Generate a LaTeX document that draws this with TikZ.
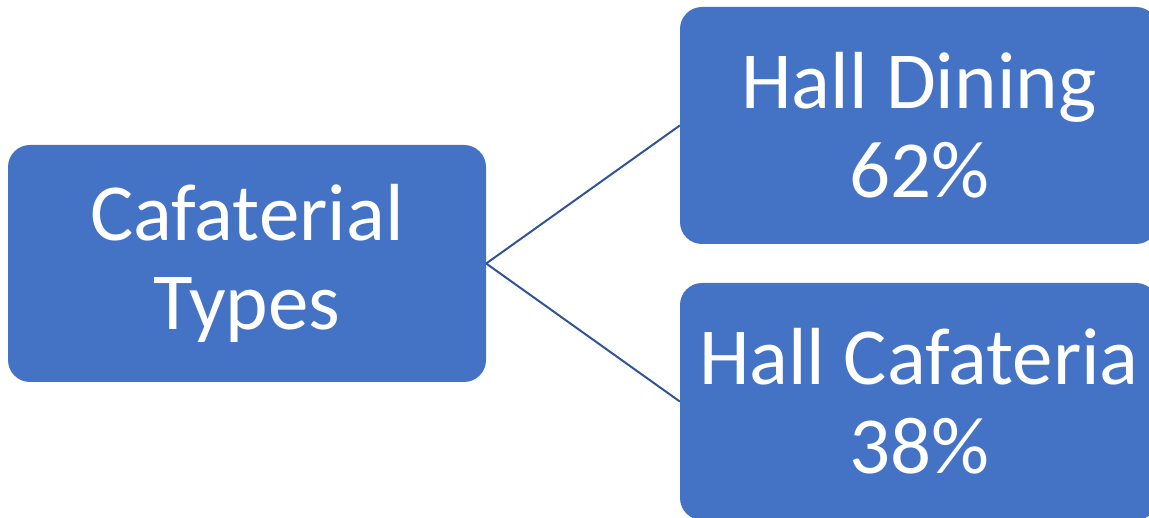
\documentclass[tikz,border=0pt]{standalone}
\usepackage{fontspec}
\setmainfont{Carlito}
\definecolor{boxblue}{HTML}{4472C4}
\definecolor{lineblue}{HTML}{2F5597}
\begin{document}
\begin{tikzpicture}[x=1pt,y=-1pt,
  box/.style={fill=boxblue, draw=none, rounded corners=22pt, minimum width=478pt, minimum height=237pt,
    text=white, align=center, inner sep=0pt, font=\fontsize{81}{89}\selectfont},
  link/.style={draw=lineblue, line width=2pt}]
\useasboundingbox (0,0) rectangle (1149,518);
\clip (0,0) rectangle (1149,518);
\node[box] (root) at (247,263.5) {Cafaterial\\Types};
\node[box] (dining) at (919,125.5) {Hall Dining\\62\%};
\node[box] (cafe) at (919,401.5) {Hall Cafateria\\38\%};
\draw[link] (root.east) -- (dining.west);
\draw[link] (root.east) -- (cafe.west);
\end{tikzpicture}
\end{document}
